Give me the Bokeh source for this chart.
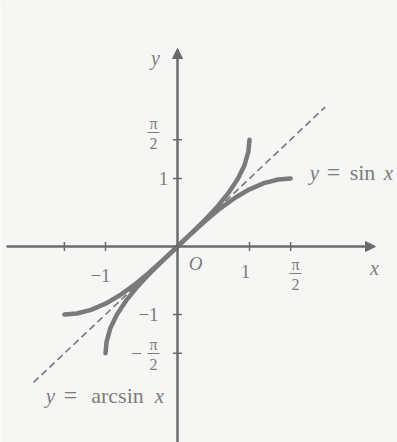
from bokeh.plotting import figure
from bokeh.models import Range1d, Arrow, NormalHead
from bokeh.core.properties import value
from bokeh.embed import file_html
from bokeh.resources import INLINE

# ---- data ----
sin_x = [-1.571, -1.4, -1.2, -1.0, -0.8, -0.6, -0.4, -0.2, 0.0, 0.2, 0.4, 0.6, 0.8, 1.0, 1.2, 1.4, 1.571]
sin_y = [-1.0, -0.985, -0.932, -0.841, -0.717, -0.565, -0.389, -0.199, 0.0, 0.199, 0.389, 0.565, 0.717, 0.841, 0.932, 0.985, 1.0]
arcsin_x = [-1.0, -0.985, -0.932, -0.841, -0.717, -0.565, -0.389, -0.199, 0.0, 0.199, 0.389, 0.565, 0.717, 0.841, 0.932, 0.985, 1.0]
arcsin_y = [-1.571, -1.4, -1.2, -1.0, -0.8, -0.6, -0.4, -0.2, 0.0, 0.2, 0.4, 0.6, 0.8, 1.0, 1.2, 1.4, 1.571]
diag_x = [-2.0, 2.05]
diag_y = [-2.0, 2.05]
x_ticks = [-1.571, -1.0, 1.0, 1.571]
y_ticks = [-1.571, -1.0, 1.0, 1.571]

# ---- layout helpers (pixel in picture -> data) ----
OX, OY, SX, SY = 177, 246, 72.0, 68.0
def dx(px): return (px - OX) / SX
def dy(py): return (OY - py) / SY

W, H = 397, 442
p = figure(width=W, height=H, output_backend="svg", toolbar_location=None,
           x_range=Range1d(dx(0), dx(W)), y_range=Range1d(dy(H), dy(0)),
           min_border=0)
p.axis.visible = False
p.grid.visible = False
p.outline_line_color = None
p.background_fill_color = "#f6f6f4"
p.border_fill_color = "#f6f6f4"

AX = "#6b6b6b"
CURVE = "#7a7a7a"
TXT = "#7c7c7c"
serif = value("Liberation Serif")

# axes with arrows
p.add_layout(Arrow(end=NormalHead(size=10, fill_color=AX, line_color=AX),
                   x_start=dx(6), y_start=0, x_end=dx(375), y_end=0,
                   line_color=AX, line_width=2.5))
p.add_layout(Arrow(end=NormalHead(size=10, fill_color=AX, line_color=AX),
                   x_start=0, y_start=dy(445), x_end=0, y_end=dy(48),
                   line_color=AX, line_width=2.5))

# ticks
p.scatter(x=x_ticks, y=[0] * len(x_ticks), marker="dash", angle=1.5708, size=9,
          line_color=AX, line_width=1.5)
p.scatter(x=[0] * len(y_ticks), y=y_ticks, marker="dash", size=9,
          line_color=AX, line_width=1.5)

# dashed y = x
p.line(diag_x, diag_y, line_color="#777777", line_width=1.6, line_dash="7 4")

# curves
p.line(sin_x, sin_y, line_color=CURVE, line_width=4.5, line_cap="round")
p.line(arcsin_x, arcsin_y, line_color=CURVE, line_width=4.5, line_cap="round")

def txt(px, py, s, size=19, italic=False, align="center"):
    p.text(x=[dx(px)], y=[dy(py)], text=[s], text_font=serif,
           text_font_size=f"{size}px", text_color=TXT,
           text_font_style="italic" if italic else "normal",
           text_align=align, text_baseline="middle")

def frac(px, py_bar, neg=False):
    txt(px, py_bar - 9, "π", size=16)
    p.segment(x0=[dx(px - 6)], y0=[dy(py_bar)], x1=[dx(px + 6)], y1=[dy(py_bar)],
              line_color=TXT, line_width=1)
    txt(px, py_bar + 11, "2", size=16)
    if neg:
        txt(px - 17, py_bar, "−", size=19)

# axis labels
txt(155, 57, "y", size=20, italic=True)
txt(374, 267, "x", size=20, italic=True)
txt(195, 263, "O", size=19, italic=True)

# x tick labels
txt(245, 271, "1")
frac(295, 273)
txt(100, 275, "−1")

# y tick labels
txt(163, 178, "1")
frac(153, 132)
txt(148, 314, "−1")
frac(153, 353, neg=True)

# curve labels
txt(314, 172, "y", size=21, italic=True)
txt(333, 171, "=", size=24)
txt(362, 172, "sin", size=22)
txt(388, 172, "x", size=21, italic=True)

txt(50, 395, "y", size=21, italic=True)
txt(70, 394, "=", size=24)
txt(117, 395, "arcsin", size=22)
txt(159, 395, "x", size=21, italic=True)

open("out.html", "w").write(file_html(p, INLINE))
